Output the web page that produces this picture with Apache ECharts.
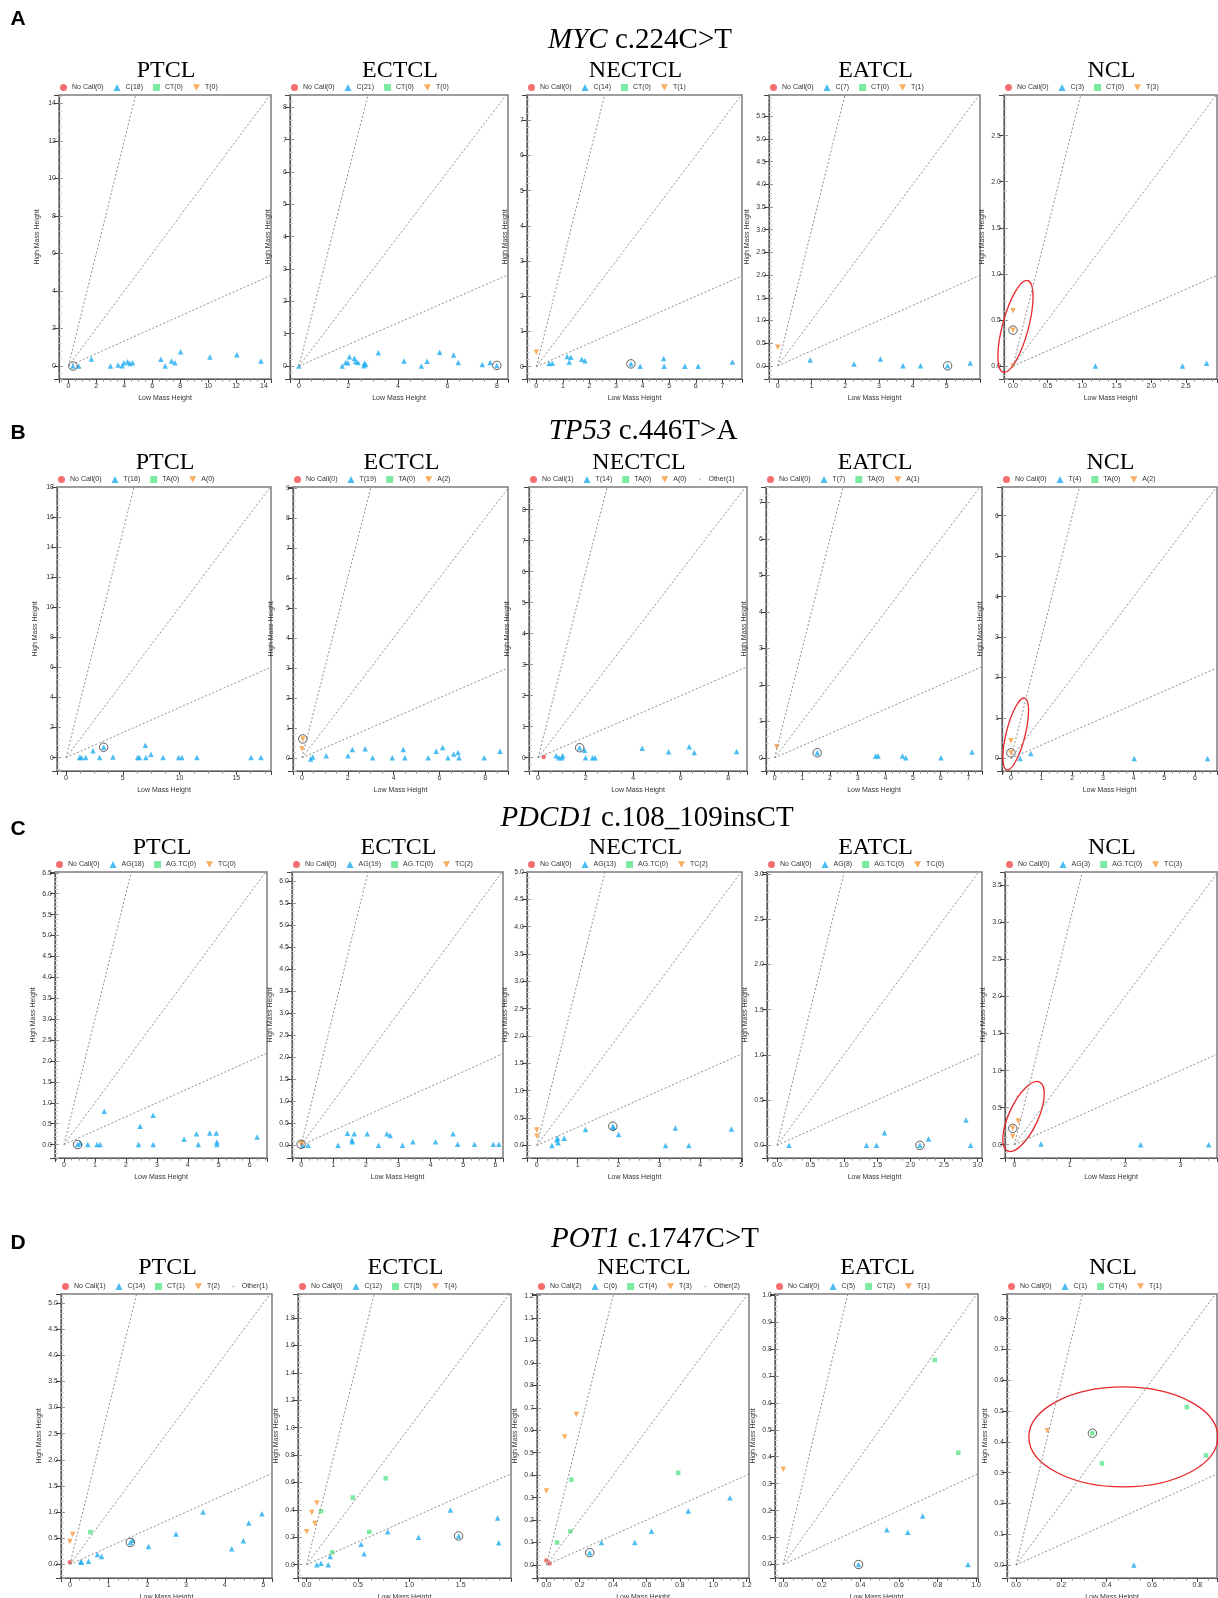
<!DOCTYPE html>
<html lang="en">
<head>
<meta charset="utf-8">
<title>Genotype cluster plots</title>
<script src="https://cdn.jsdelivr.net/npm/echarts@6/dist/echarts.min.js"></script>
<style>
  html, body { margin: 0; padding: 0; background: #fff; }
  #container { width: 1218px; height: 1598px; }
</style>
</head>
<body>
<div id="container"></div>
<script>
var panelNames = ['PTCL', 'ECTCL', 'NECTCL', 'EATCL', 'NCL'];
var rowLetters = ['A', 'B', 'C', 'D'];
var rowGenes = ['MYC', 'TP53', 'PDCD1', 'POT1'];
var rowChanges = [' c.224C>T', ' c.446T>A', ' c.108_109insCT', ' c.1747C>T'];

// ---- A: MYC c.224C>T ----
var mycLegend = [
  ['No Call(0)', 'C(18)', 'CT(0)', 'T(0)'],
  ['No Call(0)', 'C(21)', 'CT(0)', 'T(0)'],
  ['No Call(0)', 'C(14)', 'CT(0)', 'T(1)'],
  ['No Call(0)', 'C(7)', 'CT(0)', 'T(1)'],
  ['No Call(0)', 'C(3)', 'CT(0)', 'T(3)']
];
// [xmin, xmax, xstep, ymin, ymax, ystep]
var mycAxes = [
  [-0.67, 14.5, 2, -0.69, 14.44, 2],
  [-0.36, 8.45, 2, -0.40, 8.38, 1],
  [-0.35, 7.74, 1, -0.35, 7.72, 1],
  [-0.26, 5.99, 1, -0.29, 5.97, 0.5],
  [-0.13, 2.95, 0.5, -0.14, 2.94, 0.5]
];
var mycNoCall = [[], [], [], [], []];
var mycMain = [
  [[0.33, 0], [0.74, 0], [1.65, 0.37], [3.01, 0], [3.56, 0.05], [3.85, 0.02], [3.97, 0.18], [4.23, 0.23], [4.40, 0.14], [4.59, 0.18], [6.62, 0.36], [6.93, 0], [7.38, 0.27], [7.62, 0.18], [8.03, 0.76], [10.13, 0.48], [12.06, 0.60], [13.78, 0.27]],
  [[0, 0], [1.75, 0], [1.89, 0.11], [1.98, 0.10], [2.04, 0.29], [2.24, 0.24], [2.29, 0.14], [2.39, 0.11], [2.62, 0.01], [2.65, 0.09], [2.70, 0.05], [3.21, 0.41], [4.25, 0.16], [4.95, 0], [5.18, 0.15], [5.69, 0.43], [6.25, 0.34], [6.44, 0.11], [7.41, 0.05], [7.73, 0.11], [8.0, 0.02]],
  [[0.48, 0.09], [0.60, 0.10], [1.16, 0.29], [1.30, 0.27], [1.24, 0.13], [1.71, 0.21], [1.83, 0.17], [3.56, 0.08], [3.91, 0.01], [4.79, 0.23], [4.81, 0.01], [5.59, 0.01], [6.09, 0.01], [7.38, 0.13]],
  [[0.96, 0.13], [2.26, 0.04], [3.04, 0.15], [3.71, 0], [4.23, 0], [5.03, 0], [5.70, 0.06]],
  [[1.19, 0], [2.45, 0], [2.80, 0.03]]
];
var mycHet = [[], [], [], [], []];
var mycAlt = [[], [], [[0, 0.41]], [[0, 0.41]], [[0, 0.60], [0, 0.39], [0, 0.0]]];
var mycOther = [[], [], [], [], []];
var mycCircled = [[[0.33, 0]], [[8.0, 0.02]], [[3.56, 0.08]], [[5.03, 0]], [[0, 0.39]]];

// ---- B: TP53 c.446T>A ----
var tp53Legend = [
  ['No Call(0)', 'T(18)', 'TA(0)', 'A(0)'],
  ['No Call(0)', 'T(19)', 'TA(0)', 'A(2)'],
  ['No Call(1)', 'T(14)', 'TA(0)', 'A(0)', 'Other(1)'],
  ['No Call(0)', 'T(7)', 'TA(0)', 'A(1)'],
  ['No Call(0)', 'T(4)', 'TA(0)', 'A(2)']
];
var tp53Axes = [
  [-0.79, 18.05, 5, -0.89, 18.0, 2],
  [-0.39, 8.99, 2, -0.44, 9.03, 1],
  [-0.38, 8.79, 2, -0.43, 8.73, 1],
  [-0.31, 7.49, 1, -0.36, 7.42, 1],
  [-0.29, 6.72, 1, -0.31, 6.71, 1]
];
var tp53NoCall = [[], [], [[0.24, 0.02]], [], []];
var tp53Main = [
  [[1.20, 0], [1.35, 0], [1.73, 0], [2.38, 0.46], [2.96, 0], [3.32, 0.69], [4.14, 0.04], [6.31, 0], [6.46, 0], [6.99, 0.82], [7.04, 0], [7.48, 0.22], [8.54, 0], [9.92, 0], [10.21, 0], [11.53, 0], [16.29, 0], [17.17, 0]],
  [[0.38, -0.04], [0.47, 0.03], [1.06, 0.07], [2.01, 0.07], [2.20, 0.28], [2.76, 0.30], [3.08, 0], [3.94, 0], [4.42, 0.28], [4.49, 0], [5.51, 0], [5.86, 0.22], [6.14, 0.34], [6.37, 0], [6.62, 0.13], [6.81, 0.18], [6.85, 0], [7.95, 0], [8.64, 0.22]],
  [[0.76, 0.06], [0.88, 0], [1.00, 0], [1.04, 0.06], [1.75, 0.32], [1.96, 0.24], [2.00, 0], [2.29, 0], [2.40, 0], [4.38, 0.30], [5.49, 0.19], [6.36, 0.35], [6.57, 0.17], [8.35, 0.20]],
  [[1.54, 0.14], [3.65, 0.05], [3.74, 0.05], [4.62, 0.05], [4.74, 0], [6.01, 0], [7.13, 0.16]],
  [[0.30, 0], [0.65, 0.12], [4.02, 0], [6.41, 0]]
];
var tp53Het = [[], [], [], [], []];
var tp53Alt = [[], [[0.04, 0.63], [0, 0.30]], [], [[0.08, 0.30]], [[0, 0.44], [0, 0.14]]];
var tp53Other = [[], [], [[0.12, 0.03]], [], []];
var tp53Circled = [[[3.32, 0.69]], [[0.04, 0.63]], [[1.75, 0.32]], [[1.54, 0.14]], [[0, 0.14]]];

// ---- C: PDCD1 c.108_109insCT ----
var pdcdLegend = [
  ['No Call(0)', 'AG(18)', 'AG.TC(0)', 'TC(0)'],
  ['No Call(0)', 'AG(19)', 'AG.TC(0)', 'TC(2)'],
  ['No Call(0)', 'AG(13)', 'AG.TC(0)', 'TC(2)'],
  ['No Call(0)', 'AG(8)', 'AG.TC(0)', 'TC(0)'],
  ['No Call(0)', 'AG(3)', 'AG.TC(0)', 'TC(3)']
];
var pdcdAxes = [
  [-0.29, 6.56, 1, -0.32, 6.52, 0.5],
  [-0.28, 6.23, 1, -0.29, 6.20, 0.5],
  [-0.24, 5.02, 1, -0.23, 5.0, 0.5],
  [-0.15, 3.07, 0.5, -0.14, 3.02, 0.5],
  [-0.17, 3.66, 1, -0.18, 3.68, 0.5]
];
var pdcdNoCall = [[], [], [], [], []];
var pdcdMain = [
  [[0.44, 0], [0.52, 0.04], [0.77, 0], [1.07, 0], [1.17, 0], [1.30, 0.80], [2.41, 0], [2.46, 0.44], [2.88, 0.70], [2.88, 0], [3.88, 0.13], [4.28, 0.26], [4.34, 0], [4.71, 0.28], [4.92, 0.28], [4.94, 0.06], [4.94, 0], [6.24, 0.18]],
  [[0.05, 0], [0.22, 0], [1.14, 0], [1.43, 0.27], [1.57, 0.12], [1.58, 0.08], [1.64, 0.26], [2.04, 0.26], [2.39, 0], [2.65, 0.26], [2.75, 0.22], [3.13, 0], [3.45, 0.08], [4.15, 0.08], [4.69, 0.26], [4.83, 0.02], [5.35, 0.02], [5.93, 0.02], [6.1, 0.02]],
  [[0.37, 0], [0.49, 0.10], [0.51, 0.13], [0.52, 0.05], [0.67, 0.13], [1.19, 0.29], [1.86, 0.35], [1.88, 0.33], [2.00, 0.20], [3.15, 0], [3.39, 0.32], [3.72, 0], [4.76, 0.30]],
  [[0.18, 0], [1.34, 0], [1.49, 0], [1.61, 0.14], [2.14, 0], [2.27, 0.07], [2.83, 0.28], [2.90, 0]],
  [[0.48, 0.01], [2.28, 0], [3.51, 0]]
];
var pdcdHet = [[], [], [], [], []];
var pdcdAlt = [[], [[0, 0.02], [0.03, 0.05]], [[0, 0.28], [0, 0.17]], [], [[-0.03, 0.22], [0.07, 0.32], [-0.03, 0.11]]];
var pdcdOther = [[], [], [], [], []];
var pdcdCircled = [[[0.44, 0]], [[0, 0.02]], [[1.86, 0.35]], [[2.14, 0]], [[-0.03, 0.22]]];

// ---- D: POT1 c.1747C>T ----
var potLegend = [
  ['No Call(1)', 'C(14)', 'CT(1)', 'T(2)', 'Other(1)'],
  ['No Call(0)', 'C(12)', 'CT(5)', 'T(4)'],
  ['No Call(2)', 'C(6)', 'CT(4)', 'T(3)', 'Other(2)'],
  ['No Call(0)', 'C(5)', 'CT(2)', 'T(1)'],
  ['No Call(0)', 'C(1)', 'CT(4)', 'T(1)']
];
var potAxes = [
  [-0.23, 5.22, 1, -0.26, 5.17, 0.5],
  [-0.084, 1.99, 0.5, -0.097, 1.975, 0.2],
  [-0.056, 1.214, 0.2, -0.058, 1.207, 0.1],
  [-0.043, 1.01, 0.2, -0.05, 1.004, 0.1],
  [-0.04, 0.887, 0.2, -0.042, 0.88, 0.1]
];
var potNoCall = [[[0, 0.04]], [], [[0, 0.02], [0.02, 0.007]], [], []];
var potMain = [
  [[0.28, 0.05], [0.48, 0.06], [0.71, 0.19], [0.82, 0.15], [1.56, 0.42], [1.62, 0.46], [2.03, 0.34], [2.74, 0.58], [3.44, 1.0], [4.18, 0.30], [4.48, 0.45], [4.62, 0.79], [4.96, 0.97], [0.30, 0.04]],
  [[0.10, 0], [0.14, 0.01], [0.21, 0], [0.23, 0.06], [0.53, 0.15], [0.56, 0.08], [0.79, 0.24], [1.09, 0.20], [1.40, 0.40], [1.48, 0.21], [1.86, 0.34], [1.87, 0.16]],
  [[0.26, 0.055], [0.33, 0.10], [0.53, 0.10], [0.63, 0.15], [0.85, 0.24], [1.10, 0.30]],
  [[0.39, 0], [0.537, 0.129], [0.646, 0.12], [0.723, 0.18], [0.958, 0]],
  [[0.52, 0]]
];
var potHet = [
  [[0.53, 0.62]],
  [[0.14, 0.39], [0.25, 0.09], [0.45, 0.49], [0.61, 0.24], [0.77, 0.63]],
  [[0.064, 0.10], [0.144, 0.15], [0.15, 0.38], [0.79, 0.41]],
  [[0.786, 0.759], [0.908, 0.415]],
  [[0.337, 0.428], [0.379, 0.33], [0.754, 0.513], [0.838, 0.356]]
];
var potAlt = [
  [[0.07, 0.57], [0, 0.44]],
  [[0, 0.24], [0.05, 0.38], [0.08, 0.30], [0.10, 0.45]],
  [[0, 0.33], [0.11, 0.57], [0.18, 0.67]],
  [[0, 0.354]],
  [[0.138, 0.436]]
];
var potOther = [[[0.05, 0.02]], [], [[0.03, 0.01], [0.05, 0.03]], [], []];
var potCircled = [[[1.56, 0.42]], [[1.48, 0.21]], [[0.26, 0.055]], [[0.39, 0]], [[0.337, 0.428]]];

// red ellipse annotations on the NCL panels (centre in data units)
var nclEllipseCenter = [[0.036, 0.43], [0.157, 0.605], [0.165, 0.38], [0.4735, 0.416]];

// ---- layout ----
var gridTops = [95, 487, 872, 1294];
var gridHeights = [284, 284, 286, 284];
var gridLefts = [[59, 290, 527, 769, 1004], [57, 293, 529, 766, 1002], [55, 292, 527, 767, 1005], [61, 298, 537, 775, 1007]];
var gridRights = [[271, 508, 742, 980, 1217], [271, 508, 747, 982, 1217], [267, 503, 742, 982, 1217], [272, 511, 749, 978, 1217]];
var panelTitleY = [71, 463, 848, 1268];
var rowTitleX = [640, 643, 647, 655];
var rowTitleY = [40, 431, 818, 1239];
var letterY = [19, 433, 829, 1243];
var ellipseShape = [[13, 47.5, -15], [9.5, 37, -14], [14.5, 38, -25], [94.5, 50, 0]]; // rx, ry (px), rotation (deg)

var RED = '#f24b4b', BLUE = '#1fadf0', GREEN = '#5ce58a', ORANGE = '#f79a3a', OTHER = '#c8c8c8';
var DOWN = 'path://M0,0L10,0L5,9Z';
var DOT = 'path://M0,0M10,10M4,4L6,4L6,6L4,6Z';
var SANS = 'Liberation Sans';
var SERIF = 'Liberation Serif';

var rows = [
  {legend: mycLegend, axes: mycAxes, noCall: mycNoCall, main: mycMain, het: mycHet, alt: mycAlt, other: mycOther, circled: mycCircled},
  {legend: tp53Legend, axes: tp53Axes, noCall: tp53NoCall, main: tp53Main, het: tp53Het, alt: tp53Alt, other: tp53Other, circled: tp53Circled},
  {legend: pdcdLegend, axes: pdcdAxes, noCall: pdcdNoCall, main: pdcdMain, het: pdcdHet, alt: pdcdAlt, other: pdcdOther, circled: pdcdCircled},
  {legend: potLegend, axes: potAxes, noCall: potNoCall, main: potMain, het: potHet, alt: potAlt, other: potOther, circled: potCircled}
];

function tickFormatter(step) {
  var dec = step < 1 ? 1 : 0;
  return function (v) {
    var q = v / step;
    if (Math.abs(q - Math.round(q)) > 1e-6) return '';
    return (Math.round(q) * step).toFixed(dec);
  };
}

function valueAxis(k, min, max, step) {
  return {
    type: 'value', gridIndex: k, min: min, max: max,
    minInterval: step, maxInterval: step,
    splitLine: {show: false}
  };
}

var option = {
  animation: false,
  backgroundColor: '#fff',
  grid: [], xAxis: [], yAxis: [], legend: [], series: [],
  graphic: {elements: []}
};

rows.forEach(function (row, r) {
  option.graphic.elements.push({
    type: 'text', x: 18, y: letterY[r],
    style: {text: rowLetters[r], fontSize: 21, fontWeight: 'bold', fontFamily: SANS, fill: '#000',
      align: 'center', verticalAlign: 'middle', textAlign: 'center', textVerticalAlign: 'middle'}
  });
  option.graphic.elements.push({
    type: 'text', x: rowTitleX[r], y: rowTitleY[r],
    style: {
      text: '{g|' + rowGenes[r] + '}{t|' + rowChanges[r] + '}',
      rich: {
        g: {fontSize: 29, fontStyle: 'italic', fontFamily: SERIF, color: '#000'},
        t: {fontSize: 29, fontFamily: SERIF, color: '#000'}
      },
      align: 'center', verticalAlign: 'middle', textAlign: 'center', textVerticalAlign: 'middle'
    }
  });

  for (var c = 0; c < 5; c++) {
    var k = r * 5 + c;
    var ax = row.axes[c];
    var left = gridLefts[r][c], right = gridRights[r][c];
    var top = gridTops[r];

    option.graphic.elements.push({
      type: 'text', x: (left + right) / 2 + 1, y: panelTitleY[r],
      style: {text: panelNames[c], fontSize: 24, fontFamily: SERIF, fill: '#000',
        align: 'center', verticalAlign: 'middle', textAlign: 'center', textVerticalAlign: 'middle'}
    });

    option.grid.push({
      left: left, top: top, width: right - left, height: gridHeights[r],
      show: true, borderColor: '#7d7d7d', borderWidth: 1.5, backgroundColor: '#fff',
      containLabel: false, outerBoundsMode: 'none'
    });

    var xa = valueAxis(k, ax[0], ax[1], ax[2]);
    xa.position = 'bottom';
    xa.axisLine = {show: true, onZero: false, lineStyle: {color: '#555', width: 1.2}};
    xa.axisTick = {show: true, length: 4, lineStyle: {color: '#444'}};
    xa.minorTick = {show: true, splitNumber: 4, length: 2.5, lineStyle: {color: '#8a8a8a'}};
    xa.axisLabel = {fontSize: 7, color: '#333', fontFamily: SANS, margin: 4, formatter: tickFormatter(ax[2])};
    xa.name = 'Low Mass Height';
    xa.nameLocation = 'middle';
    xa.nameGap = 16;
    xa.nameTextStyle = {fontSize: 7, color: '#333', fontFamily: SANS};
    option.xAxis.push(xa);

    var ya = valueAxis(k, ax[3], ax[4], ax[5]);
    ya.position = 'left';
    ya.axisLine = {show: true, onZero: false, lineStyle: {color: '#555', width: 1.2}};
    ya.axisTick = {show: true, length: 5, lineStyle: {color: '#444'}};
    ya.axisLabel = {fontSize: 7, color: '#333', fontFamily: SANS, margin: 3, formatter: tickFormatter(ax[5])};
    ya.name = 'High Mass Height';
    ya.nameLocation = 'middle';
    ya.nameGap = 18;
    ya.nameTextStyle = {fontSize: 7, color: '#333', fontFamily: SANS};
    option.yAxis.push(ya);

    // second y axis only for the light inner tick band
    var yb = valueAxis(k, ax[3], ax[4], ax[5]);
    yb.position = 'left';
    yb.axisLine = {show: false, onZero: false};
    yb.axisLabel = {show: false};
    yb.axisTick = {show: true, inside: true, length: 4, lineStyle: {color: '#9a9a9a'}};
    yb.minorTick = {show: true, splitNumber: 5, length: 3, lineStyle: {color: '#cfcfcf'}};
    option.yAxis.push(yb);

    var names = row.legend[c];
    var legendData = [
      {name: names[0], icon: 'circle', itemStyle: {color: RED}},
      {name: names[1], icon: 'triangle', itemStyle: {color: BLUE}},
      {name: names[2], icon: 'rect', itemStyle: {color: GREEN}},
      {name: names[3], icon: DOWN, itemStyle: {color: ORANGE}}
    ];
    if (names[4]) legendData.push({name: names[4], icon: DOT, itemStyle: {color: '#999'}});
    option.legend.push({
      left: left + 1, top: top - 11, padding: 0, orient: 'horizontal',
      itemWidth: 7, itemHeight: 7, itemGap: 10, selectedMode: false,
      textStyle: {fontSize: 7, color: '#333', fontFamily: SANS},
      data: legendData
    });

    var yi = 2 * k;
    var m = Math.min(ax[1], ax[4]);
    option.series.push({
      type: 'scatter', name: names[0], xAxisIndex: k, yAxisIndex: yi,
      symbol: 'circle', symbolSize: 4.5, itemStyle: {color: RED}, data: row.noCall[c], silent: true
    });
    option.series.push({
      type: 'scatter', name: names[1], xAxisIndex: k, yAxisIndex: yi,
      symbol: 'triangle', symbolSize: 5.5, itemStyle: {color: BLUE}, data: row.main[c], silent: true,
      markLine: {
        silent: true, symbol: ['none', 'none'], label: {show: false},
        lineStyle: {type: [2, 2], color: '#8f8f8f', width: 1},
        data: [
          [{coord: [0, 0]}, {coord: [ax[4] / 3, ax[4]]}],
          [{coord: [0, 0]}, {coord: [m, m]}],
          [{coord: [0, 0]}, {coord: [ax[1], ax[1] / 3]}]
        ]
      }
    });
    option.series.push({
      type: 'scatter', name: names[2], xAxisIndex: k, yAxisIndex: yi,
      symbol: 'rect', symbolSize: 4.5, itemStyle: {color: GREEN}, data: row.het[c], silent: true
    });
    option.series.push({
      type: 'scatter', name: names[3], xAxisIndex: k, yAxisIndex: yi,
      symbol: DOWN, symbolSize: 5.5, itemStyle: {color: ORANGE}, data: row.alt[c], silent: true
    });
    if (names[4]) {
      option.series.push({
        type: 'scatter', name: names[4], xAxisIndex: k, yAxisIndex: yi,
        symbol: 'circle', symbolSize: 1.5, itemStyle: {color: OTHER}, data: row.other[c], silent: true
      });
    }
    option.series.push({
      type: 'scatter', xAxisIndex: k, yAxisIndex: yi,
      symbol: 'circle', symbolSize: 8.5, silent: true, z: 3,
      itemStyle: {color: 'rgba(0,0,0,0)', borderColor: '#3a3a3a', borderWidth: 1},
      data: row.circled[c]
    });
    if (c === 4) {
      (function (shape) {
        option.series.push({
          type: 'custom', coordinateSystem: 'cartesian2d', xAxisIndex: k, yAxisIndex: yi,
          silent: true, clip: false, z: 4,
          data: [nclEllipseCenter[r]],
          renderItem: function (params, api) {
            var p = api.coord([api.value(0), api.value(1)]);
            return {
              type: 'ellipse', x: p[0], y: p[1], rotation: shape[2] * Math.PI / 180,
              shape: {cx: 0, cy: 0, rx: shape[0], ry: shape[1]},
              style: {fill: 'none', stroke: '#e8262b', lineWidth: 1.3}
            };
          }
        });
      })(ellipseShape[r]);
    }
  }
});

var chart = echarts.init(document.getElementById('container'), null, {renderer: 'canvas'});
chart.setOption(option);
</script>
</body>
</html>
